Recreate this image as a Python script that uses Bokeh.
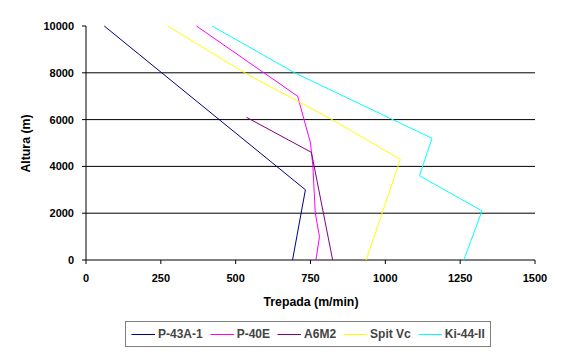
from bokeh.plotting import figure
from bokeh.models import Range1d, FixedTicker, Legend, LegendItem
from bokeh.embed import file_html
from bokeh.resources import INLINE

# Data (altitude in m, climb rate in m/min)
p43_alt = [0, 3000, 10000]
p43_climb = [690, 733, 61]

p40_alt = [0, 1000, 2000, 4000, 5000, 7000, 10000]
p40_climb = [768, 780, 766, 758, 750, 707, 369]

a6m2_alt = [0, 4600, 6100]
a6m2_climb = [824, 753, 536]

spit_alt = [0, 4300, 6000, 8000, 10000]
spit_climb = [936, 1050, 822, 530, 273]

ki44_alt = [0, 2100, 3600, 5200, 8000, 10000]
ki44_climb = [1262, 1323, 1114, 1156, 697, 421]

series_names = ["P-43A-1", "P-40E", "A6M2", "Spit Vc", "Ki-44-II"]
series_colors = ["#000080", "#FF00FF", "#800080", "#FFFF00", "#00FFFF"]
series_x = [p43_climb, p40_climb, a6m2_climb, spit_climb, ki44_climb]
series_y = [p43_alt, p40_alt, a6m2_alt, spit_alt, ki44_alt]

x_ticks = [0, 250, 500, 750, 1000, 1250, 1500]
y_ticks = [0, 2000, 4000, 6000, 8000, 10000]
grid_ticks = [2000, 4000, 6000, 8000]
X_MAX, Y_MAX = 1500, 10000

FONT = "Liberation Sans"

# The frame covers the whole figure; both axes are anchored at 0 inside it,
# so that axes, ticks and the legend below the plot area all stay visible.
FIG_W, FIG_H = 566, 357
AX_LEFT, AX_RIGHT = 85.5, 534.5     # pixel positions of x = 0 and x = 1500
AX_TOP, AX_BOTTOM = 25.5, 259.5     # pixel positions of y = 10000 and y = 0
TICK_PX = 4
ux = X_MAX / (AX_RIGHT - AX_LEFT)
uy = Y_MAX / (AX_BOTTOM - AX_TOP)
x_rng = Range1d(-AX_LEFT * ux, X_MAX + (FIG_W - AX_RIGHT) * ux)
y_rng = Range1d(-(FIG_H - AX_BOTTOM) * uy, Y_MAX + AX_TOP * uy)

p = figure(width=FIG_W, height=FIG_H, output_backend="svg", toolbar_location=None,
           x_range=x_rng, y_range=y_rng, min_border=0)
p.outline_line_color = None
p.background_fill_color = "white"
p.border_fill_color = "white"
p.xgrid.visible = False
p.ygrid.visible = False

for ax, ticks in ((p.xaxis[0], x_ticks), (p.yaxis[0], y_ticks)):
    ax.ticker = FixedTicker(ticks=ticks)
    ax.fixed_location = 0
    ax.axis_line_color = None
    ax.major_tick_line_color = None
    ax.major_tick_in = 0
    ax.major_tick_out = TICK_PX
    ax.minor_tick_line_color = None
    ax.major_label_text_font = FONT
    ax.major_label_text_font_style = "bold"
    ax.major_label_text_font_size = "11px"
    ax.major_label_text_color = "black"
    ax.axis_label_text_font = FONT
    ax.axis_label_text_font_style = "bold"
    ax.axis_label_text_font_size = "12.3px"
    ax.axis_label_text_color = "black"

p.xaxis[0].bounds = (0, X_MAX)
p.yaxis[0].bounds = (0, Y_MAX)
p.xaxis[0].axis_label = "Trepada (m/min)"
p.yaxis[0].axis_label = "Altura (m)"
p.xaxis[0].major_label_standoff = 10
p.yaxis[0].major_label_standoff = 8
p.xaxis[0].axis_label_standoff = 9
p.yaxis[0].axis_label_standoff = 8
p.yaxis[0].major_label_orientation = "horizontal"

# horizontal gridlines (only over the plot area)
p.segment(x0=0, x1=X_MAX, y0=grid_ticks, y1=grid_ticks,
          line_color="black", line_width=1)
# axis lines and outward ticks
p.segment(x0=[0, 0], y0=[0, 0], x1=[X_MAX, 0], y1=[0, Y_MAX],
          line_color="black", line_width=1)
p.segment(x0=x_ticks, x1=x_ticks, y0=0, y1=-TICK_PX * uy,
          line_color="black", line_width=1)
p.segment(x0=-TICK_PX * ux, x1=0, y0=y_ticks, y1=y_ticks,
          line_color="black", line_width=1)

items = []
for name, color, xs, ys in zip(series_names, series_colors, series_x, series_y):
    r = p.line(xs, ys, line_color=color, line_width=1)
    items.append(LegendItem(label=name, renderers=[r]))

legend = Legend(items=items, orientation="horizontal", location=(125, 10),
                border_line_color="black", border_line_width=1,
                background_fill_color="white", background_fill_alpha=1,
                label_text_font=FONT, label_text_font_style="bold",
                label_text_font_size="12px", label_standoff=3,
                glyph_width=24, glyph_height=12, label_height=12,
                padding=5, spacing=7, margin=0)
p.add_layout(legend, "center")

open("out.html", "w").write(file_html(p, INLINE))
